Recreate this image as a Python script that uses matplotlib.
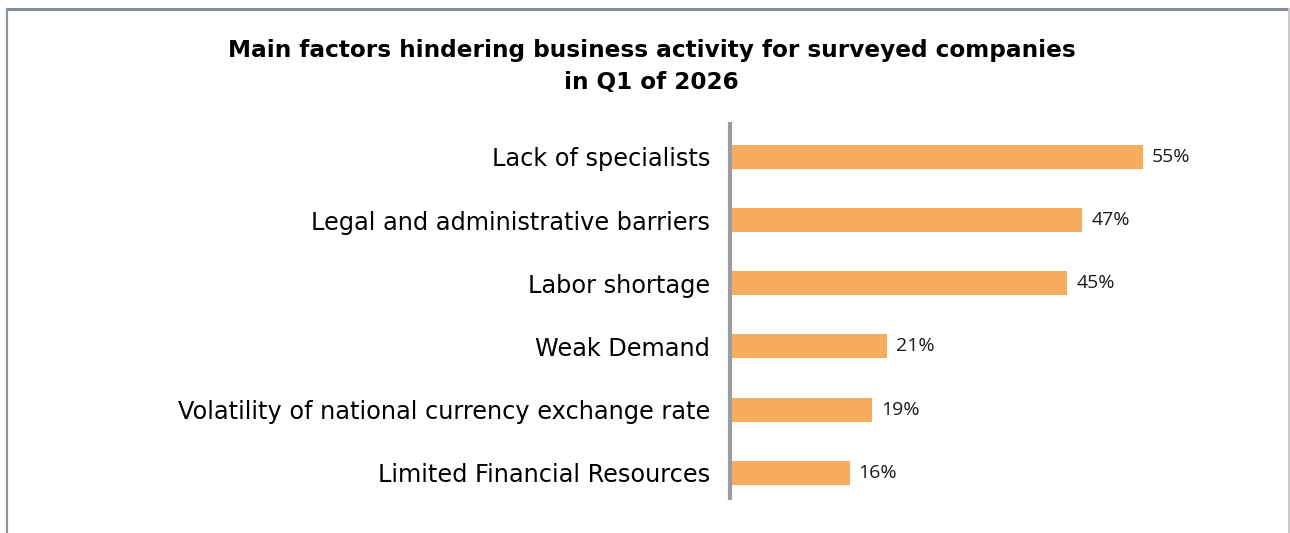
import matplotlib.pyplot as plt
from matplotlib.lines import Line2D

factors = ['Lack of specialists',
           'Legal and administrative barriers',
           'Labor shortage',
           'Weak Demand',
           'Volatility of national currency exchange rate',
           'Limited Financial Resources']
shares = [55, 47, 45, 21, 19, 16]

W, H = 1290, 533
fig = plt.figure(figsize=(W / 100, H / 100), dpi=100)

# outer frame (bottom edge runs off the image)
fig.add_artist(Line2D([7 / W, 1289 / W], [1 - 9 / H, 1 - 9 / H], color='#838d9a', lw=2.2))
fig.add_artist(Line2D([7 / W, 7 / W], [0, 1 - 9 / H], color='#8a939f', lw=1.6))
fig.add_artist(Line2D([1289 / W, 1289 / W], [0, 1 - 9 / H], color='#c9c9c9', lw=1.4))

fig.text(0.505, 1 - 50 / H, 'Main factors hindering business activity for surveyed companies',
         ha='center', va='center', fontsize=16.7, fontweight='bold', family='DejaVu Sans')
fig.text(0.505, 1 - 82 / H, 'in Q1 of 2026',
         ha='center', va='center', fontsize=16.7, fontweight='bold', family='DejaVu Sans')

ax = fig.add_axes([729.5 / W, 1 - 498 / H, 520 / W, 374 / H])
y = range(len(factors))
ax.barh(y, shares, height=0.38, color='#f8ad5e')
ax.set_ylim(5.40, -0.52)
ax.set_xlim(0, 520 / 7.51)

for yi, v in zip(y, shares):
    ax.text(v + 1.2, yi, f'{v}%', va='center', ha='left', fontsize=14,
            family='Open Sans', color='#1a1a1a')

ax.set_yticks(list(y))
ax.set_yticklabels(factors, fontsize=17.3, family='DejaVu Sans')
ax.tick_params(axis='y', length=0, pad=14)
ax.set_xticks([])
for s in ['top', 'right', 'bottom']:
    ax.spines[s].set_visible(False)
ax.spines['left'].set_color('#9b9ba0')
ax.spines['left'].set_linewidth(3)

fig.savefig('out.png', dpi=100)
